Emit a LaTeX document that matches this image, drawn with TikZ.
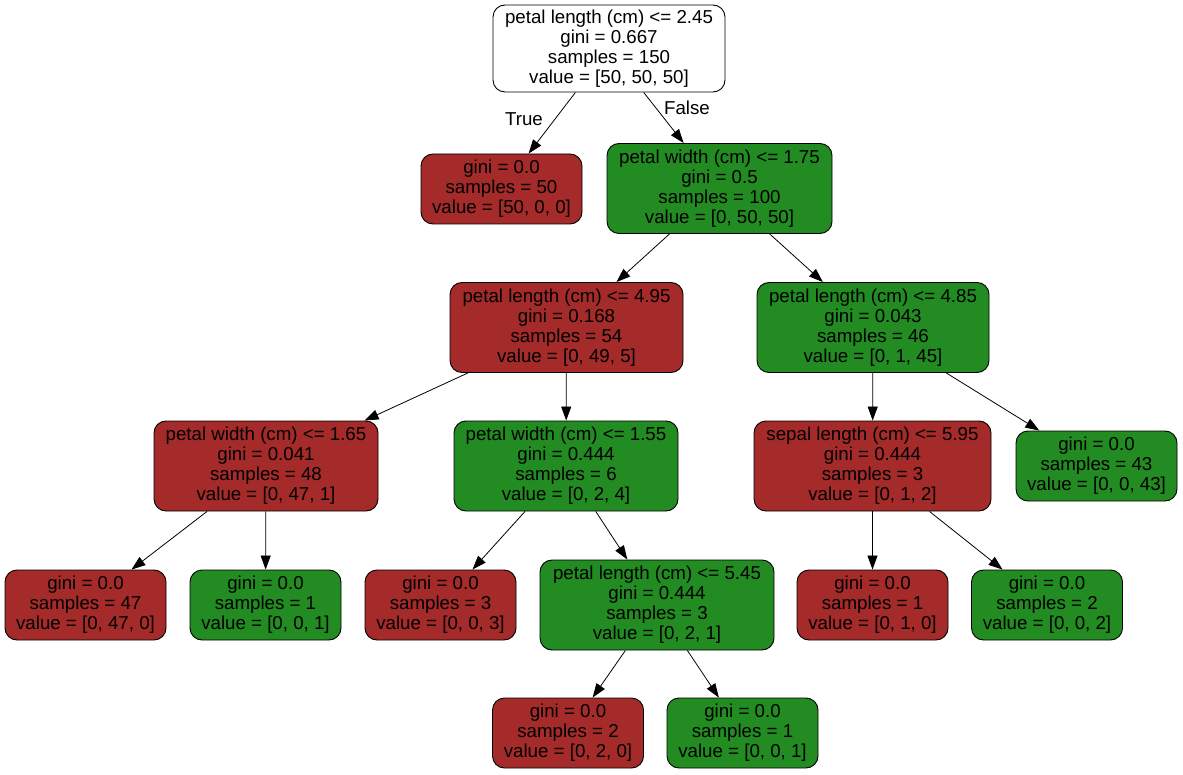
\documentclass[tikz,border=0pt]{standalone}
\usepackage{fontspec}
\setmainfont{Liberation Sans}
\usetikzlibrary{arrows.meta}
\definecolor{classa}{HTML}{A52A2A}
\definecolor{classb}{HTML}{228B22}

\tikzset{
  tn/.style={draw=black, line width=0.9pt, rounded corners=12pt, align=center,
             font=\fontsize{18.7}{20}\selectfont, inner sep=0pt,
             execute at begin node={\rule{0pt}{18pt}}},
  splitnode/.style={tn, minimum height=90pt},
  leafnode/.style={tn, minimum height=70pt, minimum width=151pt},
  cla/.style={fill=classa},
  clb/.style={fill=classb},
  edge/.style={draw, line width=0.8pt, -{Triangle[length=14pt,width=10pt]}},
  elabel/.style={font=\fontsize{18.7}{20}\selectfont, inner sep=0pt}
}

\begin{document}
\begin{tikzpicture}[x=1pt, y=-1pt]
  \useasboundingbox (0,0) rectangle (1183,775);

  % depth 0
  \node[splitnode, fill=white, minimum width=232pt, minimum height=87pt] (n0) at (609,48.5)
    {petal length (cm) <= 2.45\\gini = 0.667\\samples = 150\\value = [50, 50, 50]};

  % depth 1
  \node[leafnode, cla, minimum width=161pt] (n1) at (501.5,189)
    {gini = 0.0\\samples = 50\\value = [50, 0, 0]};
  \node[splitnode, clb, minimum width=225pt] (n2) at (719.5,188.5)
    {petal width (cm) <= 1.75\\gini = 0.5\\samples = 100\\value = [0, 50, 50]};

  % depth 2
  \node[splitnode, cla, minimum width=233pt] (n3) at (566.5,327.5)
    {petal length (cm) <= 4.95\\gini = 0.168\\samples = 54\\value = [0, 49, 5]};
  \node[splitnode, clb, minimum width=232pt] (n4) at (873,327.5)
    {petal length (cm) <= 4.85\\gini = 0.043\\samples = 46\\value = [0, 1, 45]};

  % depth 3
  \node[splitnode, cla, minimum width=224pt] (n5) at (266,466)
    {petal width (cm) <= 1.65\\gini = 0.041\\samples = 48\\value = [0, 47, 1]};
  \node[splitnode, clb, minimum width=224pt] (n6) at (566,466)
    {petal width (cm) <= 1.55\\gini = 0.444\\samples = 6\\value = [0, 2, 4]};
  \node[splitnode, cla, minimum width=237pt] (n7) at (872.5,466)
    {sepal length (cm) <= 5.95\\gini = 0.444\\samples = 3\\value = [0, 1, 2]};
  \node[leafnode, clb, minimum width=161pt] (n8) at (1096.5,466)
    {gini = 0.0\\samples = 43\\value = [0, 0, 43]};

  % depth 4
  \node[leafnode, cla, minimum width=161pt] (n9) at (85.5,605)
    {gini = 0.0\\samples = 47\\value = [0, 47, 0]};
  \node[leafnode, clb] (n10) at (265.5,605)
    {gini = 0.0\\samples = 1\\value = [0, 0, 1]};
  \node[leafnode, cla] (n11) at (440.5,605)
    {gini = 0.0\\samples = 3\\value = [0, 0, 3]};
  \node[splitnode, clb, minimum width=234pt] (n12) at (657,605)
    {petal length (cm) <= 5.45\\gini = 0.444\\samples = 3\\value = [0, 2, 1]};
  \node[leafnode, cla] (n13) at (872.5,605)
    {gini = 0.0\\samples = 1\\value = [0, 1, 0]};
  \node[leafnode, clb] (n14) at (1047,605)
    {gini = 0.0\\samples = 2\\value = [0, 0, 2]};

  % depth 5
  \node[leafnode, cla] (n15) at (568,733)
    {gini = 0.0\\samples = 2\\value = [0, 2, 0]};
  \node[leafnode, clb] (n16) at (742.5,733)
    {gini = 0.0\\samples = 1\\value = [0, 0, 1]};

  % connectors
  \draw[edge] (n0) -- (n1);
  \draw[edge] (n0) -- (n2);
  \draw[edge] (n2) -- (n3);
  \draw[edge] (n2) -- (n4);
  \draw[edge] (n3) -- (n5);
  \draw[edge] (n3) -- (n6);
  \draw[edge] (n4) -- (n7);
  \draw[edge] (n4) -- (n8);
  \draw[edge] (n5) -- (n9);
  \draw[edge] (n5) -- (n10);
  \draw[edge] (n6) -- (n11);
  \draw[edge] (n6) -- (n12);
  \draw[edge] (n7) -- (n13);
  \draw[edge] (n7) -- (n14);
  \draw[edge] (n12) -- (n15);
  \draw[edge] (n12) -- (n16);

  % branch labels
  \node[elabel] (ltrue) at (524,119) {True};
  \node[elabel] (lfalse) at (687,108) {False};
\end{tikzpicture}
\end{document}
